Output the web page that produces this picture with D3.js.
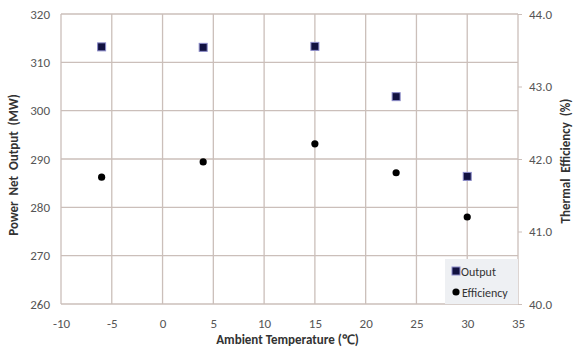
<!DOCTYPE html>
<html>
<head>
<meta charset="utf-8">
<script src="https://cdn.jsdelivr.net/npm/d3@7"></script>
<style>
  body { margin: 0; background: #fff; }
  text { font-family: Carlito, "Liberation Sans", "Open Sans", sans-serif; }
</style>
</head>
<body>
<div id="chart"></div>
<script>
// data
const temps = [-6, 4, 15, 23, 30];
const output = [313.2, 313.1, 313.3, 302.9, 286.4];
const efficiency = [41.75, 41.96, 42.21, 41.81, 41.2];
const xTicks = [-10, -5, 0, 5, 10, 15, 20, 25, 30, 35];
const leftTicks = [260, 270, 280, 290, 300, 310, 320];
const rightTicks = [40, 41, 42, 43, 44];

const W = 577, H = 349;
const margin = {top: 14, right: 59, bottom: 45, left: 61},
  width = W - margin.left - margin.right,
  height = H - margin.top - margin.bottom;

const svg = d3.select('#chart')
  .append('svg')
    .attr('width', W)
    .attr('height', H)
  .append('g')
    .attr('transform', 'translate(' + margin.left + ',' + margin.top + ')');

const x = d3.scaleLinear().domain([-10, 35]).range([0, width]);
const yL = d3.scaleLinear().domain([260, 320]).range([height, 0]);
const yR = d3.scaleLinear().domain([40, 44]).range([height, 0]);

const gridColor = '#cbbfba';

// grid
svg.append('g').selectAll('line').data(leftTicks).enter().append('line')
  .attr('x1', 0).attr('x2', width)
  .attr('y1', d => yL(d)).attr('y2', d => yL(d))
  .attr('stroke', gridColor).attr('stroke-width', 1.3);
svg.append('g').selectAll('line').data(xTicks).enter().append('line')
  .attr('y1', 0).attr('y2', height)
  .attr('x1', d => x(d)).attr('x2', d => x(d))
  .attr('stroke', gridColor).attr('stroke-width', 1.3);

// left axis
const leftAxis = svg.append('g')
  .call(d3.axisLeft(yL).tickValues(leftTicks).tickSize(0).tickPadding(11));
// right axis
const rightAxis = svg.append('g')
  .attr('transform', 'translate(' + width + ',0)')
  .call(d3.axisRight(yR).tickValues(rightTicks).tickFormat(d3.format('.1f')).tickSize(4).tickPadding(7));
// bottom axis (plain hyphen for negatives, like the original)
const bottomAxis = svg.append('g')
  .attr('transform', 'translate(0,' + height + ')')
  .call(d3.axisBottom(x).tickValues(xTicks).tickFormat(d => String(d)).tickSize(0).tickPadding(15));

[leftAxis, rightAxis, bottomAxis].forEach(a => {
  a.select('.domain').remove();
  a.selectAll('text').attr('font-size', 13).attr('fill', '#555').attr('font-family', 'Carlito, "Liberation Sans", sans-serif');
  a.selectAll('line').attr('stroke', gridColor);
});

// axis titles
svg.append('text')
  .attr('transform', 'translate(-43,' + (height / 2 + 6) + ') rotate(-90)')
  .attr('text-anchor', 'middle')
  .style('white-space', 'pre')
  .attr('font-size', 13).attr('font-weight', 'bold').attr('fill', '#333')
  .text('Power  Net  Output  (MW)');
svg.append('text')
  .attr('transform', 'translate(' + (width + 52) + ',' + (height / 2 + 2) + ') rotate(-90)')
  .attr('text-anchor', 'middle')
  .style('white-space', 'pre')
  .attr('font-size', 13).attr('font-weight', 'bold').attr('fill', '#333')
  .text('Thermal  Efficiency  (%)');
svg.append('text')
  .attr('x', width / 2 - 2)
  .attr('y', height + 40)
  .attr('text-anchor', 'middle')
  .attr('font-size', 13).attr('font-weight', 'bold').attr('fill', '#333')
  .text('Ambient Temperature (℃)');

// output squares
const sq = 8;
svg.append('g').selectAll('rect').data(temps).enter().append('rect')
  .attr('x', (d) => x(d) - sq / 2)
  .attr('y', (d, i) => yL(output[i]) - sq / 2)
  .attr('width', sq).attr('height', sq)
  .attr('fill', '#111140')
  .attr('stroke', '#8a8ac8').attr('stroke-width', 1);

// efficiency circles
svg.append('g').selectAll('circle').data(temps).enter().append('circle')
  .attr('cx', d => x(d))
  .attr('cy', (d, i) => yR(efficiency[i]))
  .attr('r', 3.6)
  .attr('fill', '#000');

// legend
const legend = svg.append('g')
  .attr('transform', 'translate(' + (width - 73) + ',' + (height - 45) + ')');
legend.append('rect')
  .attr('width', 73).attr('height', 45)
  .attr('fill', '#eef0f3');
legend.append('rect')
  .attr('x', 7).attr('y', 8)
  .attr('width', sq).attr('height', sq)
  .attr('fill', '#111140').attr('stroke', '#8a8ac8');
legend.append('text')
  .attr('x', 16).attr('y', 16.5)
  .attr('font-size', 12).attr('fill', '#333')
  .text('Output');
legend.append('circle')
  .attr('cx', 11).attr('cy', 33).attr('r', 3.6).attr('fill', '#000');
legend.append('text')
  .attr('x', 17).attr('y', 37.5)
  .attr('font-size', 12).attr('fill', '#333')
  .text('Efficiency');
</script>
</body>
</html>
